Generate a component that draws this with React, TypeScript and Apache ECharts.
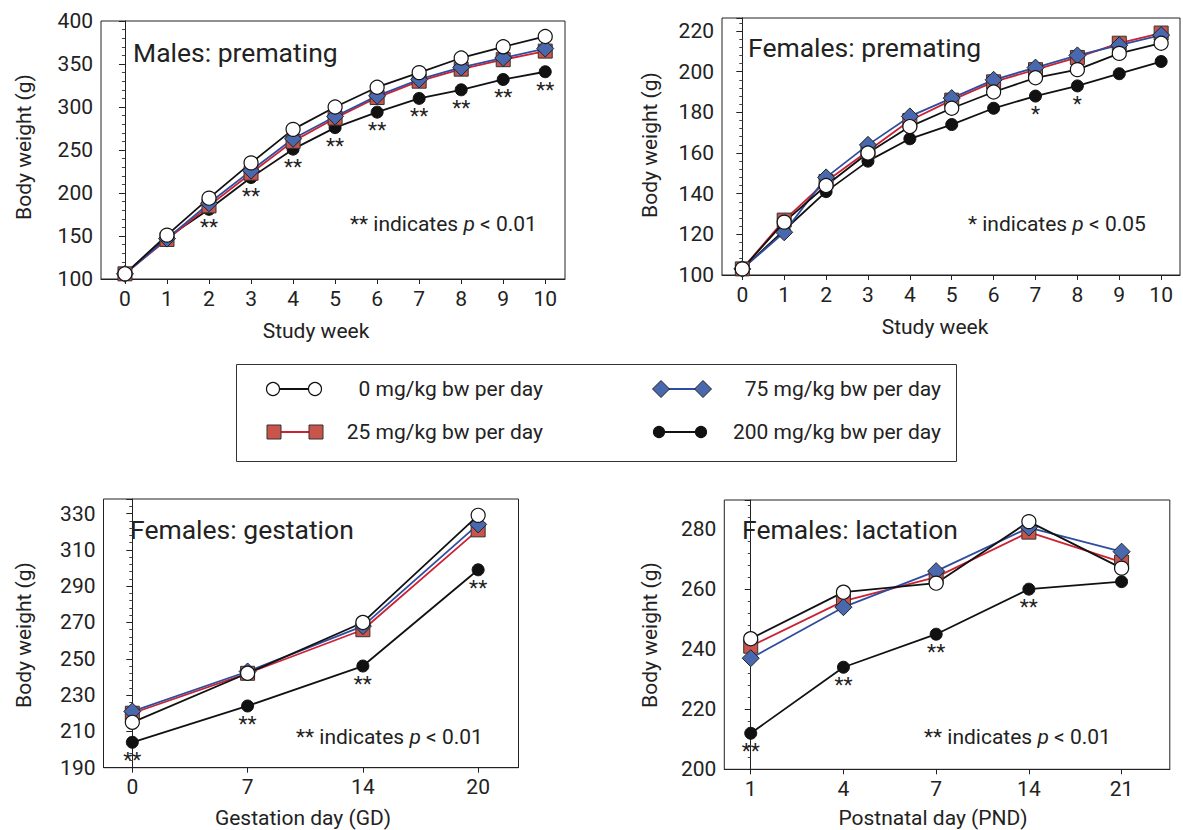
import React, { useEffect, useRef } from "react";
import * as echarts from "echarts";

const weeks = [0, 1, 2, 3, 4, 5, 6, 7, 8, 9, 10];
const maleDose0 = [106, 151, 194, 235, 274, 300, 323, 340, 357, 370, 382];
const maleDose25 = [106, 146, 185, 223, 260, 287, 311, 330, 344, 355, 365];
const maleDose75 = [106, 147, 188, 226, 263, 289, 313, 332, 346, 357, 368];
const maleDose200 = [106, 148, 181, 218, 251, 276, 294, 310, 320, 332, 341];
const maleSig = ["", "", "**", "**", "**", "**", "**", "**", "**", "**", "**"];

const femDose0 = [103, 126, 144, 160, 173, 182, 190, 197, 201, 209, 214];
const femDose25 = [103, 127, 146, 161, 176, 186, 195, 201, 207, 214, 219];
const femDose75 = [103, 121, 148, 164, 178, 187, 196, 202, 208, 213, 218];
const femDose200 = [103, 122, 141, 156, 167, 174, 182, 188, 193, 199, 205];
const femSig = ["", "", "", "", "", "", "", "*", "*", "", ""];

const gestDays = ["0", "7", "14", "20"];
const gestDose0 = [215, 242, 270, 329];
const gestDose25 = [220, 242, 266, 321];
const gestDose75 = [221, 243, 268, 324];
const gestDose200 = [204, 224, 246, 299];
const gestSig = ["**", "**", "**", "**"];

const lactDays = ["1", "4", "7", "14", "21"];
const lactDose0 = [243.5, 259, 262, 282.5, 267];
const lactDose25 = [241, 256, 264, 279, 269];
const lactDose75 = [237, 254, 266, 280.5, 272.5];
const lactDose200 = [212, 234, 245, 260, 262.5];
const lactSig = ["**", "**", "**", "**", ""];

const legendLabels = [
  "0 mg/kg bw per day",
  "25 mg/kg bw per day",
  "75 mg/kg bw per day",
  "200 mg/kg bw per day",
];

const FONT = "Roboto, 'Noto Sans', sans-serif";
const INK = "#222";
const FS = 21;
const TITLE_FS = 26.5;

const doseStyles = [
  { symbol: "circle", size: 14, fill: "#ffffff", border: "#111", line: "#111" },
  { symbol: "rect", size: 14, fill: "#c8544b", border: "#333", line: "#cc2233" },
  { symbol: "diamond", size: 17, fill: "#4a68ad", border: "#222", line: "#2f4d9e" },
  { symbol: "circle", size: 12, fill: "#111", border: "#111", line: "#111" },
];

type Panel = {
  grid: { left: number; top: number; width: number; height: number };
  xMin: number;
  xMax: number;
  xs: number[];
  xLabels: string[];
  yMin: number;
  yMax: number;
  yInterval: number;
  minorSplit: number;
  doses: number[][];
  sig: string[];
};

const panels: Panel[] = [
  {
    grid: { left: 101, top: 21, width: 464, height: 258 },
    xMin: -0.57, xMax: 10.47,
    xs: weeks, xLabels: weeks.map(String),
    yMin: 100, yMax: 400, yInterval: 50, minorSplit: 5,
    doses: [maleDose0, maleDose25, maleDose75, maleDose200],
    sig: maleSig,
  },
  {
    grid: { left: 722, top: 18, width: 458, height: 257 },
    xMin: -0.485, xMax: 10.45,
    xs: weeks, xLabels: weeks.map(String),
    yMin: 100, yMax: 226.4, yInterval: 20, minorSplit: 5,
    doses: [femDose0, femDose25, femDose75, femDose200],
    sig: femSig,
  },
  {
    grid: { left: 103.5, top: 499, width: 415, height: 268.7 },
    xMin: -0.25, xMax: 3.35,
    xs: gestDays.map((_, i) => i), xLabels: gestDays,
    yMin: 190, yMax: 338, yInterval: 20, minorSplit: 5,
    doses: [gestDose0, gestDose25, gestDose75, gestDose200],
    sig: gestSig,
  },
  {
    grid: { left: 724.3, top: 500, width: 445.5, height: 269.3 },
    xMin: -0.285, xMax: 4.52,
    xs: lactDays.map((_, i) => i), xLabels: lactDays,
    yMin: 200, yMax: 289.7, yInterval: 20, minorSplit: 5,
    doses: [lactDose0, lactDose25, lactDose75, lactDose200],
    sig: lactSig,
  },
];

function annotation(x: number, y: number, stars: string, p: string) {
  return {
    type: "text",
    x,
    y,
    style: {
      text: `{n|${stars} indicates }{i|p}{n| < ${p}}`,
      textVerticalAlign: "middle",
      rich: {
        n: { fontSize: FS, fontFamily: FONT, fill: INK, color: INK },
        i: { fontSize: FS, fontFamily: FONT, fontStyle: "italic", fill: INK, color: INK },
      },
    },
  };
}

function plainText(text: string, x: number, y: number, size: number, align = "left", rotation = 0) {
  return {
    type: "text",
    x,
    y,
    rotation,
    style: {
      text,
      font: `${size}px ${FONT}`,
      fill: INK,
      textAlign: align,
      textVerticalAlign: "middle",
    },
  };
}

function legendGraphics() {
  const els: any[] = [];
  els.push({
    type: "rect",
    shape: { x: 236.5, y: 364.5, width: 720, height: 97 },
    style: { fill: "none", stroke: "#333", lineWidth: 1 },
  });
  const items = [
    { x1: 273, x2: 315, y: 389, tx: 543 },
    { x1: 274, x2: 316, y: 432, tx: 543 },
    { x1: 661, x2: 703, y: 389, tx: 941 },
    { x1: 659, x2: 701, y: 432, tx: 941 },
  ];
  items.forEach((it, k) => {
    const s = doseStyles[k];
    els.push({
      type: "line",
      shape: { x1: it.x1, y1: it.y, x2: it.x2, y2: it.y },
      style: { stroke: s.line, lineWidth: 1.8 },
    });
    [it.x1, it.x2].forEach((cx) => {
      if (s.symbol === "circle") {
        els.push({
          type: "circle",
          shape: { cx, cy: it.y, r: s.size / 2 - 0.5 },
          style: { fill: s.fill, stroke: s.border, lineWidth: 1.2 },
        });
      } else if (s.symbol === "rect") {
        els.push({
          type: "rect",
          shape: { x: cx - 7, y: it.y - 7, width: 14, height: 14 },
          style: { fill: s.fill, stroke: s.border, lineWidth: 1 },
        });
      } else {
        els.push({
          type: "polygon",
          shape: { points: [[cx, it.y - 8.5], [cx + 8.5, it.y], [cx, it.y + 8.5], [cx - 8.5, it.y]] },
          style: { fill: s.fill, stroke: s.border, lineWidth: 1 },
        });
      }
    });
    els.push(plainText(legendLabels[k], it.tx, it.y, FS, "right"));
  });
  return els;
}

export default function App() {
  const ref = useRef<HTMLDivElement>(null);

  useEffect(() => {
    document.body.style.margin = "0";
    if (!ref.current) return;
    const chart = echarts.init(ref.current, undefined, { renderer: "svg" });

    const grids = panels.map((p) => ({
      ...p.grid,
      show: true,
      borderColor: "#222",
      borderWidth: 1,
      containLabel: false,
    }));

    const xAxes = panels.map((p, gi) => ({
      type: "value",
      gridIndex: gi,
      min: p.xMin,
      max: p.xMax,
      splitLine: { show: false },
      axisLine: { show: true, onZero: false, lineStyle: { color: "#222", width: 1 } },
      axisTick: {
        show: true,
        length: 5,
        customValues: p.xs,
        lineStyle: { color: "#222" },
      },
      axisLabel: {
        show: true,
        customValues: p.xs,
        margin: 9,
        fontSize: FS,
        fontFamily: FONT,
        color: INK,
        formatter: (v: number) => {
          const idx = p.xs.indexOf(Math.round(v));
          return idx >= 0 ? p.xLabels[idx] : "";
        },
      },
    }));

    const yAxes = panels.map((p, gi) => ({
      type: "value",
      gridIndex: gi,
      min: p.yMin,
      max: p.yMax,
      interval: p.yInterval,
      splitLine: { show: false },
      axisLine: { show: true, lineStyle: { color: "#222", width: 1 } },
      axisTick: { show: true, length: 6, lineStyle: { color: "#222" } },
      minorTick: { show: true, splitNumber: p.minorSplit, length: 3, lineStyle: { color: "#444" } },
      axisLabel: {
        margin: 8,
        fontSize: FS,
        fontFamily: FONT,
        color: INK,
        formatter: (v: number) =>
          Math.abs(((v - p.yMin) % p.yInterval)) < 1e-6 ? String(Math.round(v)) : "",
      },
    }));

    const order = [3, 1, 2, 0];
    const series: any[] = [];
    panels.forEach((p, gi) => {
      order.forEach((k) => {
        const s = doseStyles[k];
        const vals = p.doses[k];
        series.push({
          type: "line",
          name: legendLabels[k],
          xAxisIndex: gi,
          yAxisIndex: gi,
          data: p.xs.map((x, i) => [x, vals[i]]),
          symbol: s.symbol,
          symbolSize: s.size,
          showAllSymbol: true,
          lineStyle: { color: s.line, width: 1.8 },
          itemStyle: { color: s.fill, borderColor: s.border, borderWidth: k === 0 ? 1.2 : 1 },
          label:
            k === 3
              ? {
                  show: true,
                  position: "bottom",
                  distance: 1,
                  fontSize: FS,
                  fontFamily: FONT,
                  color: INK,
                  formatter: (d: any) => p.sig[d.dataIndex] || "",
                }
              : { show: false },
          emphasis: { disabled: true },
          z: 3,
        });
      });
    });

    const graphic: any[] = [
      plainText("Males: premating", 133, 52, TITLE_FS),
      plainText("Females: premating", 748, 47, TITLE_FS),
      plainText("Females: gestation", 130, 529, TITLE_FS),
      plainText("Females: lactation", 742, 529, TITLE_FS),
      annotation(350, 224, "**", "0.01"),
      annotation(968, 224, "*", "0.05"),
      annotation(296, 737, "**", "0.01"),
      annotation(924, 737, "**", "0.01"),
      plainText("Study week", 316, 331, FS, "center"),
      plainText("Study week", 935, 327, FS, "center"),
      plainText("Gestation day (GD)", 303, 818, FS, "center"),
      plainText("Postnatal day (PND)", 933, 818, FS, "center"),
      plainText("Body weight (g)", 24, 147, FS, "center", Math.PI / 2),
      plainText("Body weight (g)", 650, 145, FS, "center", Math.PI / 2),
      plainText("Body weight (g)", 24, 635, FS, "center", Math.PI / 2),
      plainText("Body weight (g)", 650, 635, FS, "center", Math.PI / 2),
      ...legendGraphics(),
    ];

    chart.setOption({
      animation: false,
      backgroundColor: "#ffffff",
      textStyle: { fontFamily: FONT },
      grid: grids,
      xAxis: xAxes,
      yAxis: yAxes,
      series,
      graphic,
    });

    return () => chart.dispose();
  }, []);

  return <div ref={ref} style={{ width: 1183, height: 830 }} />;
}
